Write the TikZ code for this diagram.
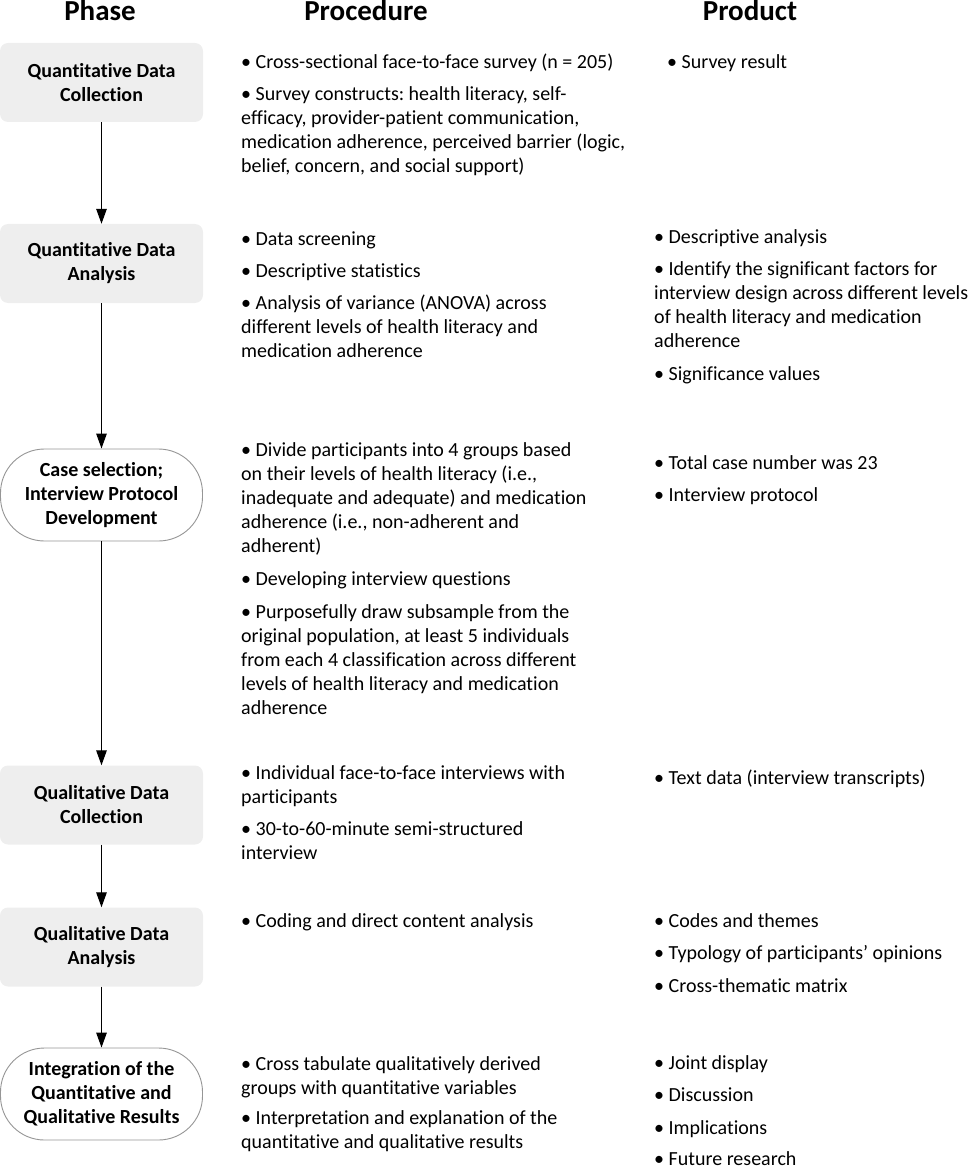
\documentclass[tikz,border=0pt]{standalone}
\usepackage{fontspec}
\setmainfont{Carlito}[Ligatures={NoCommon,NoContextual}]
\usetikzlibrary{arrows.meta}
\frenchspacing
\definecolor{boxgray}{RGB}{238,238,238}
\definecolor{ovalgray}{RGB}{150,150,150}
\newcommand{\bodyfs}{\fontsize{20}{24}\selectfont}
\newcommand{\boxfs}{\fontsize{20}{24}\selectfont\bfseries}
\newcommand{\headfs}{\fontsize{29}{32}\selectfont\bfseries}
\tikzset{
  phasebox/.style={fill=boxgray, rounded corners=8pt, minimum width=203pt, minimum height=79pt, inner sep=0pt, align=center, font=\boxfs},
  phaseoval/.style={draw=ovalgray, line width=0.9pt, fill=white, rounded corners=44pt, minimum width=202pt, minimum height=92pt, inner sep=0pt, align=center, font=\boxfs},
  txt/.style={anchor=north west, inner sep=0pt, text width=420pt, font=\bodyfs, yshift=14.8pt, execute at begin node={\raggedright\frenchspacing\spaceskip=0pt\xspaceskip=0pt\strut}},
  head/.style={anchor=base, inner sep=0pt, font=\headfs},
  arr/.style={line width=1.3pt, -{Triangle[length=15pt,width=10.5pt]}}
}
\begin{document}
\begin{tikzpicture}[x=1pt,y=-1pt]
\useasboundingbox (0,0) rectangle (969,1166);
% headers
\node[head] (hphase) at (100,21) {Phase};
\node[head] (hproc) at (366,21) {Procedure};
\node[head] (hprod) at (750,21) {Product};
% phase boxes
\node[phasebox] (b1) at (101.5,82.5) {Quantitative Data\\Collection};
\node[phasebox] (b2) at (101.5,263.5) {Quantitative Data\\Analysis};
\node[phaseoval] (b3) at (101.5,495) {Case selection;\\Interview Protocol\\Development};
\node[phasebox] (b4) at (101.5,805) {Qualitative Data\\Collection};
\node[phasebox] (b5) at (101.5,947) {Qualitative Data\\Analysis};
\node[phaseoval] (b6) at (101.5,1094) {Integration of the\\Quantitative and\\Qualitative Results};
% arrows
\draw[arr] (b1) -- (b2);
\draw[arr] (b2) -- (b3);
\draw[arr] (b3) -- (b4);
\draw[arr] (b4) -- (b5);
\draw[arr] (b5) -- (b6);
% procedure column
\node[txt] (p1a) at (241,66) {• Cross-sectional face-to-face survey (n = 205)};
\node[txt] (p1b) at (241,98) {• Survey constructs: health literacy, self-\\efficacy, provider-patient communication,\\medication adherence, perceived barrier (logic,\\belief, concern, and social support)};
\node[txt] (p2a) at (241,243) {• Data screening};
\node[txt] (p2b) at (241,275) {• Descriptive statistics};
\node[txt] (p2c) at (241,307) {• Analysis of variance (ANOVA) across\\different levels of health literacy and\\medication adherence};
\node[txt] (p3a) at (241,454) {• Divide participants into 4 groups based\\on their levels of health literacy (i.e.,\\inadequate and adequate) and medication\\adherence (i.e., non-adherent and\\adherent)};
\node[txt] (p3b) at (241,583) {• Developing interview questions};
\node[txt] (p3c) at (241,616) {• Purposefully draw subsample from the\\original population, at least 5 individuals\\from each 4 classification across different\\levels of health literacy and medication\\adherence};
\node[txt] (p4a) at (241,777) {• Individual face-to-face interviews with\\participants};
\node[txt] (p4b) at (241,833) {• 30-to-60-minute semi-structured\\interview};
\node[txt] (p5a) at (241,925) {• Coding and direct content analysis};
\node[txt] (p6a) at (241,1068) {• Cross tabulate qualitatively derived\\groups with quantitative variables};
\node[txt] (p6b) at (241,1122) {• Interpretation and explanation of the\\quantitative and qualitative results};
% product column
\node[txt] (r1a) at (667,66) {• Survey result};
\node[txt] (r2a) at (654,241) {• Descriptive analysis};
\node[txt] (r2b) at (654,273) {• Identify the significant factors for\\interview design across different levels\\of health literacy and medication\\adherence};
\node[txt] (r2c) at (654,378) {• Significance values};
\node[txt] (r3a) at (654,467) {• Total case number was 23};
\node[txt] (r3b) at (654,499) {• Interview protocol};
\node[txt] (r4a) at (654,782) {• Text data (interview transcripts)};
\node[txt] (r5a) at (654,925) {• Codes and themes};
\node[txt] (r5b) at (654,957) {• Typology of participants’ opinions};
\node[txt] (r5c) at (654,990) {• Cross-thematic matrix};
\node[txt] (r6a) at (654,1067) {• Joint display};
\node[txt] (r6b) at (654,1099) {• Discussion};
\node[txt] (r6c) at (654,1132) {• Implications};
\node[txt] (r6d) at (654,1163) {• Future research};
\end{tikzpicture}
\end{document}
